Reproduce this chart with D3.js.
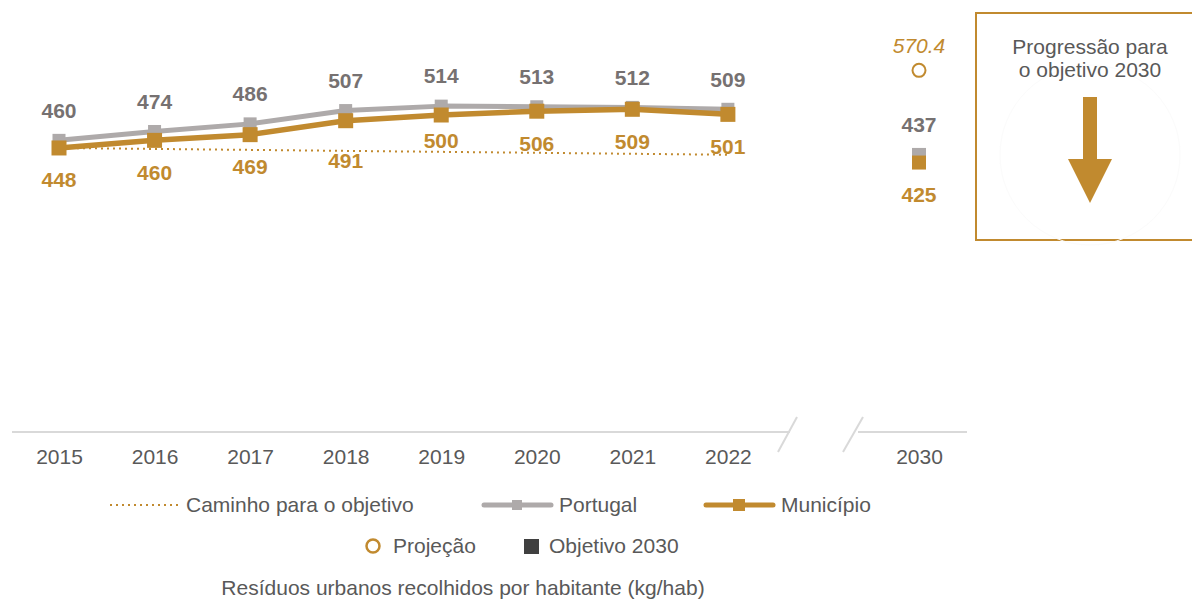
<!DOCTYPE html>
<html>
<head>
<meta charset="utf-8">
<script src="https://cdn.jsdelivr.net/npm/d3@7"></script>
<style>
  html, body { margin: 0; padding: 0; background: #fff; }
  svg { display: block; font-family: "Liberation Sans", Arial, sans-serif; }
</style>
</head>
<body>
<svg id="chart" width="1192" height="601"></svg>
<script>
// ---- data ----
const years = ["2015", "2016", "2017", "2018", "2019", "2020", "2021", "2022"];
const portugal = [460, 474, 486, 507, 514, 513, 512, 509];
const municipio = [448, 460, 469, 491, 500, 506, 509, 501];
const pathYears = ["2015", "2022"];
const pathValues = [448, 437.3];
const targetYear = "2030";
const portugalTarget = 437;
const municipioTarget = 425;
const projection = 570.4;
const xSlots = ["2015", "2016", "2017", "2018", "2019", "2020", "2021", "2022", "gap", "2030"];
const tickLabels = ["2015", "2016", "2017", "2018", "2019", "2020", "2021", "2022", "2030"];

// ---- styles / layout ----
const GOLD = "#C18A2F";
const GRAY_LINE = "#AEAAAA";
const GRAY_TEXT = "#767171";
const TEXT = "#595959";
const FS = 21;
const muLabelNudge = [0, 0, 0, 8, -6, 0, 0, 0]; // manual label shifts (px)

const svg = d3.select("#chart");
const x = d3.scalePoint().domain(xSlots).range([59, 919]);
const y = d3.scaleLinear().domain([0, 600]).range([432, 51.6]);

// ---- axis with break ----
const axisG = svg.append("g").attr("transform", "translate(0,432)");
const axis = d3.axisBottom(x).tickValues(tickLabels).tickSize(0).tickPadding(17);
axisG.call(axis);
axisG.select(".domain").remove();
axisG.selectAll("text").attr("font-size", FS).attr("fill", TEXT)
  .attr("font-family", "Liberation Sans, Arial, sans-serif");
const axLine = svg.append("g").attr("stroke", "#D9D9D9").attr("stroke-width", 2).attr("fill", "none");
axLine.append("line").attr("x1", 12).attr("x2", 790).attr("y1", 432).attr("y2", 432);
axLine.append("line").attr("x1", 858).attr("x2", 967).attr("y1", 432).attr("y2", 432);
axLine.append("line").attr("x1", 778).attr("y1", 452).attr("x2", 797).attr("y2", 417);
axLine.append("line").attr("x1", 843).attr("y1", 452).attr("x2", 863).attr("y2", 417);

// ---- path to target (dotted) ----
svg.append("path")
  .datum(pathYears.map((d, i) => [d, pathValues[i]]))
  .attr("d", d3.line().x(d => x(d[0])).y(d => y(d[1])))
  .attr("fill", "none").attr("stroke", GOLD).attr("stroke-width", 2)
  .attr("stroke-dasharray", "2,4");

// ---- Portugal line ----
const ptData = years.map((d, i) => [d, portugal[i]]);
svg.append("path").datum(ptData)
  .attr("d", d3.line().x(d => x(d[0])).y(d => y(d[1])))
  .attr("fill", "none").attr("stroke", GRAY_LINE).attr("stroke-width", 5)
  .attr("stroke-linejoin", "round");
svg.append("g").selectAll("rect").data(ptData).join("rect")
  .attr("x", d => x(d[0]) - 6.5).attr("y", d => y(d[1]) - 6.5)
  .attr("width", 13).attr("height", 13).attr("fill", GRAY_LINE);

// ---- Municipio line ----
const muData = years.map((d, i) => [d, municipio[i], i]);
svg.append("path").datum(muData)
  .attr("d", d3.line().x(d => x(d[0])).y(d => y(d[1])))
  .attr("fill", "none").attr("stroke", GOLD).attr("stroke-width", 5.5)
  .attr("stroke-linejoin", "round");
svg.append("g").selectAll("rect").data(muData).join("rect")
  .attr("x", d => x(d[0]) - 7.5).attr("y", d => y(d[1]) - 7.5)
  .attr("width", 15).attr("height", 15).attr("fill", GOLD);

// ---- labels ----
svg.append("g").selectAll("text").data(ptData).join("text")
  .attr("x", d => x(d[0])).attr("y", d => y(d[1]) - 30)
  .attr("dy", "0.35em").attr("text-anchor", "middle")
  .attr("font-size", FS).attr("font-weight", "bold").attr("fill", GRAY_TEXT)
  .text(d => d[1]);
svg.append("g").selectAll("text").data(muData).join("text")
  .attr("x", d => x(d[0])).attr("y", d => y(d[1]) + 32 + muLabelNudge[d[2]])
  .attr("dy", "0.35em").attr("text-anchor", "middle")
  .attr("font-size", FS).attr("font-weight", "bold").attr("fill", GOLD)
  .text(d => d[1]);

// ---- 2030 targets ----
const tx = x(targetYear);
svg.append("rect").attr("x", tx - 7).attr("y", y(portugalTarget) - 7)
  .attr("width", 14).attr("height", 14).attr("fill", GRAY_LINE);
svg.append("rect").attr("x", tx - 7).attr("y", y(municipioTarget) - 7)
  .attr("width", 14).attr("height", 14).attr("fill", GOLD);
svg.append("text").attr("x", tx).attr("y", y(portugalTarget) - 30).attr("dy", "0.35em")
  .attr("text-anchor", "middle").attr("font-size", FS).attr("font-weight", "bold")
  .attr("fill", GRAY_TEXT).text(portugalTarget);
svg.append("text").attr("x", tx).attr("y", y(municipioTarget) + 32).attr("dy", "0.35em")
  .attr("text-anchor", "middle").attr("font-size", FS).attr("font-weight", "bold")
  .attr("fill", GOLD).text(municipioTarget);

// ---- projection ----
svg.append("circle").attr("cx", tx).attr("cy", y(projection)).attr("r", 6.5)
  .attr("fill", "#fff").attr("stroke", GOLD).attr("stroke-width", 2);
svg.append("text").attr("x", tx).attr("y", y(projection) - 25).attr("dy", "0.35em")
  .attr("text-anchor", "middle").attr("font-size", FS).attr("font-style", "italic")
  .attr("fill", GOLD).text(projection.toFixed(1));

// ---- progress box ----
const box = svg.append("g");
box.append("rect").attr("x", 976).attr("y", 13).attr("width", 230).attr("height", 227)
  .attr("fill", "#fff").attr("stroke", GOLD).attr("stroke-width", 2);
box.append("circle").attr("cx", 1090).attr("cy", 155).attr("r", 90)
  .attr("fill", "none").attr("stroke", "#FBFBFB").attr("stroke-width", 1);
box.append("text").attr("x", 1090).attr("y", 47).attr("dy", "0.35em")
  .attr("text-anchor", "middle").attr("font-size", FS).attr("fill", TEXT).text("Progressão para");
box.append("text").attr("x", 1090).attr("y", 70).attr("dy", "0.35em")
  .attr("text-anchor", "middle").attr("font-size", FS).attr("fill", TEXT).text("o objetivo 2030");
box.append("path")
  .attr("d", "M1083,97 L1097,97 L1097,159 L1112,159 L1090,203 L1068,159 L1083,159 Z")
  .attr("fill", GOLD);

// ---- legend ----
const lg = svg.append("g").attr("font-size", FS).attr("fill", TEXT);
lg.append("line").attr("x1", 110).attr("x2", 178).attr("y1", 505).attr("y2", 505)
  .attr("stroke", GOLD).attr("stroke-width", 2).attr("stroke-dasharray", "2,4");
lg.append("text").attr("x", 186).attr("y", 505).attr("dy", "0.35em").text("Caminho para o objetivo");

lg.append("line").attr("x1", 484).attr("x2", 551).attr("y1", 505).attr("y2", 505)
  .attr("stroke", GRAY_LINE).attr("stroke-width", 5).attr("stroke-linecap", "round");
lg.append("rect").attr("x", 512).attr("y", 500).attr("width", 10).attr("height", 10).attr("fill", GRAY_LINE);
lg.append("text").attr("x", 559).attr("y", 505).attr("dy", "0.35em").text("Portugal");

lg.append("line").attr("x1", 706).attr("x2", 773).attr("y1", 505).attr("y2", 505)
  .attr("stroke", GOLD).attr("stroke-width", 5).attr("stroke-linecap", "round");
lg.append("rect").attr("x", 733).attr("y", 499).attr("width", 12).attr("height", 12).attr("fill", GOLD);
lg.append("text").attr("x", 781).attr("y", 505).attr("dy", "0.35em").text("Município");

lg.append("circle").attr("cx", 373).attr("cy", 546).attr("r", 6.5)
  .attr("fill", "none").attr("stroke", GOLD).attr("stroke-width", 2.5);
lg.append("text").attr("x", 393).attr("y", 546).attr("dy", "0.35em").text("Projeção");
lg.append("rect").attr("x", 524).attr("y", 539).attr("width", 15).attr("height", 15).attr("fill", "#404040");
lg.append("text").attr("x", 549).attr("y", 546).attr("dy", "0.35em").text("Objetivo 2030");

svg.append("text").attr("x", 463).attr("y", 588).attr("dy", "0.35em")
  .attr("text-anchor", "middle").attr("font-size", FS).attr("fill", TEXT)
  .text("Resíduos urbanos recolhidos por habitante (kg/hab)");
</script>
</body>
</html>
